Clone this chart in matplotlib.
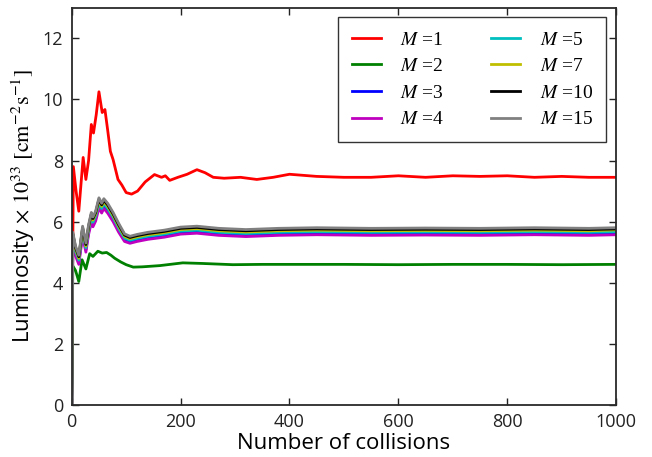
import matplotlib
matplotlib.use("Agg")
import matplotlib.pyplot as plt

# ── data ──────────────────────────────────────────────────────────────────────
n_red = [0, 3, 8, 13, 21, 26, 31, 36, 40, 45, 50, 56, 61, 66, 71, 76, 85, 92, 100, 110,
         121, 135, 152, 165, 172, 180, 195, 212, 230, 245, 260, 280, 310, 340, 370, 400,
         450, 500, 550, 600, 650, 700, 750, 800, 850, 900, 950, 1000]
lum_m1 = [0, 7.8, 7.0, 6.34, 8.1, 7.38, 8.0, 9.18, 8.9, 9.5, 10.25, 9.57, 9.67, 9.0, 8.3,
          8.03, 7.38, 7.2, 6.95, 6.9, 7.0, 7.3, 7.54, 7.45, 7.5, 7.35, 7.45, 7.55, 7.7, 7.6,
          7.45, 7.42, 7.45, 7.38, 7.45, 7.55, 7.48, 7.45, 7.45, 7.5, 7.45, 7.5, 7.48, 7.5,
          7.45, 7.48, 7.45, 7.45]

n_green = [0, 2, 7, 13, 19, 26, 33, 39, 48, 56, 64, 72, 79, 90, 100, 113, 130, 162, 204,
           240, 296, 350, 400, 500, 600, 700, 800, 900, 1000]
lum_m2 = [0, 4.55, 4.4, 4.04, 4.75, 4.45, 4.95, 4.86, 5.03, 4.97, 4.99, 4.9, 4.8, 4.68,
          4.59, 4.51, 4.52, 4.56, 4.65, 4.63, 4.59, 4.6, 4.6, 4.6, 4.59, 4.6, 4.6, 4.59, 4.6]

n_bundle = [0, 2, 7, 13, 20, 26, 31, 36, 39, 44, 50, 55, 59, 66, 76, 86, 97, 107, 120, 140,
            170, 200, 230, 270, 320, 380, 450, 550, 650, 750, 850, 950, 1000]
lum_m3 = [0, 5.41, 4.97, 4.68, 5.62, 5.08, 5.67, 6.06, 5.92, 6.11, 6.53, 6.36, 6.51, 6.36,
          6.07, 5.73, 5.41, 5.34, 5.4, 5.47, 5.54, 5.64, 5.67, 5.6, 5.56, 5.6, 5.62, 5.6,
          5.61, 5.6, 5.62, 5.6, 5.62]
lum_m4 = [0, 5.32, 4.88, 4.6, 5.53, 5.0, 5.58, 5.97, 5.83, 6.02, 6.45, 6.28, 6.43, 6.28,
          6.0, 5.66, 5.35, 5.29, 5.35, 5.42, 5.49, 5.59, 5.62, 5.55, 5.51, 5.55, 5.57, 5.55,
          5.56, 5.55, 5.57, 5.55, 5.57]
lum_m5 = [0, 5.48, 5.03, 4.74, 5.68, 5.14, 5.73, 6.13, 5.98, 6.18, 6.6, 6.43, 6.58, 6.43,
          6.14, 5.79, 5.46, 5.39, 5.45, 5.52, 5.59, 5.69, 5.72, 5.65, 5.61, 5.65, 5.67, 5.65,
          5.66, 5.65, 5.67, 5.65, 5.67]
lum_m7 = [0, 5.55, 5.1, 4.8, 5.75, 5.2, 5.8, 6.2, 6.05, 6.25, 6.68, 6.5, 6.65, 6.5, 6.2,
          5.85, 5.52, 5.44, 5.5, 5.57, 5.64, 5.74, 5.77, 5.7, 5.66, 5.7, 5.72, 5.7, 5.71,
          5.7, 5.72, 5.7, 5.73]
lum_m10 = [0, 5.6, 5.15, 4.85, 5.8, 5.25, 5.85, 6.25, 6.1, 6.3, 6.73, 6.55, 6.7, 6.55,
           6.25, 5.9, 5.56, 5.48, 5.54, 5.61, 5.68, 5.78, 5.81, 5.74, 5.7, 5.74, 5.76, 5.74,
           5.75, 5.74, 5.76, 5.74, 5.76]
lum_m15 = [0, 5.65, 5.2, 4.9, 5.85, 5.3, 5.9, 6.3, 6.15, 6.35, 6.78, 6.6, 6.75, 6.6, 6.3,
           5.95, 5.6, 5.52, 5.58, 5.65, 5.72, 5.82, 5.85, 5.78, 5.74, 5.78, 5.8, 5.78, 5.79,
           5.78, 5.8, 5.78, 5.8]

series = [
    ("1", n_red, lum_m1, "r"),
    ("2", n_green, lum_m2, "g"),
    ("3", n_bundle, lum_m3, "b"),
    ("4", n_bundle, lum_m4, "m"),
    ("5", n_bundle, lum_m5, "c"),
    ("7", n_bundle, lum_m7, "y"),
    ("10", n_bundle, lum_m10, "k"),
    ("15", n_bundle, lum_m15, "0.5"),
]

plt.rcParams["mathtext.fontset"] = "stix"
plt.rcParams["font.family"] = ["Open Sans", "DejaVu Sans"]

fig = plt.figure(figsize=(6.52, 4.57), dpi=100)
ax = fig.add_axes([0.110, 0.114, 0.835, 0.869])

for m, xs, ys, col in series:
    ax.plot(xs, ys, color=col, lw=2, label=f"$M$ ={m}")

ax.set_xlim(0, 1000)
ax.set_ylim(0, 13)
ax.set_xticks(range(0, 1001, 200))
ax.set_yticks(range(0, 13, 2))
ax.tick_params(direction="in", top=True, right=True, length=5, width=1,
               labelsize=13, colors="#222222", pad=6)
for sp in ax.spines.values():
    sp.set_linewidth(1.3)
    sp.set_color("#2a2a2a")

ax.set_xlabel("Number of collisions", fontsize=16, labelpad=1)
ax.set_ylabel(r"Luminosity $\times\ 10^{33}\ [\mathrm{cm}^{-2}\mathrm{s}^{-1}]$",
              fontsize=16, labelpad=4)

leg = ax.legend(ncol=2, loc="upper right", fancybox=False, framealpha=1,
                edgecolor="#333333", handlelength=1.5, columnspacing=2.4,
                handletextpad=1.0, labelspacing=0.46, borderpad=0.7,
                prop={"family": "Liberation Serif", "size": 14})
leg.get_frame().set_linewidth(1.0)

fig.savefig("out.png", dpi=100)
